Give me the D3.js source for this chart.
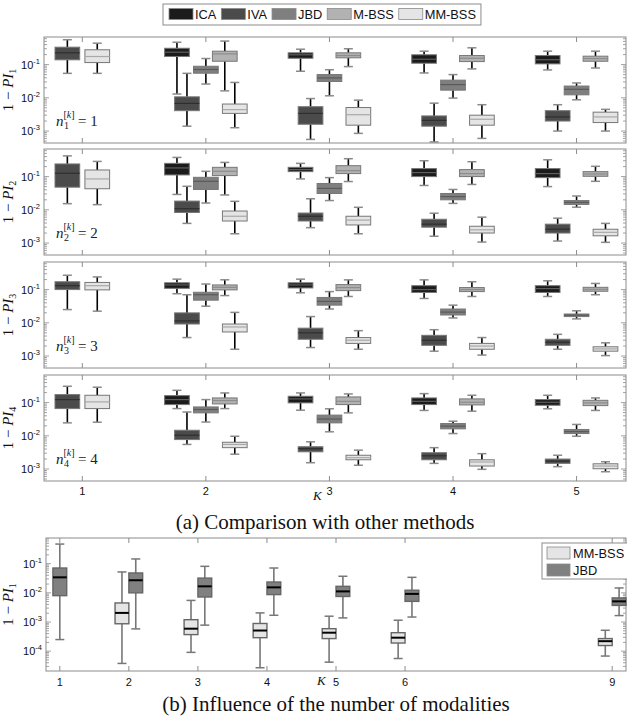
<!DOCTYPE html>
<html>
<head>
<meta charset="utf-8">
<script src="https://cdn.jsdelivr.net/npm/d3@7"></script>
<style>
  body { margin: 0; background: #fff; }
  svg { display: block; }
</style>
</head>
<body>
<div id="chart"></div>
<script>
// ---- data: every box is [lower whisker, q1, median, q3, upper whisker] ----
const METHODS = ['ICA', 'IVA', 'JBD', 'M-BSS', 'MM-BSS'];
const K_TOP = [1, 2, 3, 4, 5];
const K_BOTTOM = [1, 2, 3, 4, 5, 6, 9];

// n^[k] = 1
const PI1 = [
  [null, [0.013, 0.175, 0.236, 0.31, 0.47], [0.063, 0.155, 0.197, 0.226, 0.29], [0.056, 0.11, 0.145, 0.197, 0.253], [0.069, 0.105, 0.14, 0.187, 0.253]],
  [[0.0545, 0.139, 0.226, 0.334, 0.56], [0.0014, 0.0041, 0.0068, 0.0107, 0.0545], [0.00056, 0.0016, 0.0034, 0.0054, 0.0095], [0.00047, 0.0014, 0.0021, 0.00285, 0.0069], [0.001, 0.002, 0.00266, 0.0041, 0.0062]],
  [null, [0.026, 0.055, 0.071, 0.089, 0.152], [0.0115, 0.031, 0.0396, 0.05, 0.07], [0.0098, 0.017, 0.025, 0.034, 0.05], [0.0087, 0.0123, 0.018, 0.0226, 0.028]],
  [null, [0.0162, 0.126, 0.21, 0.253, 0.51], [0.087, 0.16, 0.187, 0.226, 0.3], [0.074, 0.123, 0.155, 0.187, 0.32], [0.079, 0.126, 0.152, 0.179, 0.253]],
  [[0.0545, 0.115, 0.175, 0.279, 0.44], [0.00126, 0.0034, 0.0044, 0.0065, 0.029], [0.00085, 0.0015, 0.0031, 0.0051, 0.0085], [0.0006, 0.0015, 0.00226, 0.003, 0.0062], [0.001, 0.0018, 0.00266, 0.0037, 0.0045]],
];
// n^[k] = 2
const PI2 = [
  [null, [0.029, 0.112, 0.182, 0.25, 0.377], [0.085, 0.141, 0.162, 0.19, 0.25], [0.054, 0.1, 0.132, 0.174, 0.3], [0.05, 0.093, 0.123, 0.174, 0.32]],
  [[0.0153, 0.048, 0.126, 0.24, 0.42], [0.0039, 0.0083, 0.0108, 0.0183, 0.051], [0.0029, 0.0046, 0.0064, 0.008, 0.0215], [0.0016, 0.003, 0.0037, 0.0052, 0.0079], [0.00115, 0.002, 0.0026, 0.0037, 0.0056]],
  [null, [0.016, 0.041, 0.072, 0.095, 0.144], [0.019, 0.031, 0.044, 0.062, 0.093], [0.0156, 0.02, 0.025, 0.031, 0.041], [0.012, 0.0145, 0.0167, 0.019, 0.026]],
  [null, [0.028, 0.107, 0.144, 0.19, 0.267], [0.071, 0.123, 0.151, 0.213, 0.345], [0.058, 0.1, 0.123, 0.162, 0.28], [0.072, 0.102, 0.12, 0.141, 0.204]],
  [[0.0143, 0.043, 0.085, 0.158, 0.286], [0.0019, 0.0046, 0.0064, 0.0092, 0.018], [0.0019, 0.0035, 0.0049, 0.0064, 0.0119], [0.00107, 0.002, 0.0025, 0.0032, 0.006], [0.00105, 0.00165, 0.0021, 0.0026, 0.0039]],
];
// n^[k] = 3
const PI3 = [
  [null, [0.075, 0.109, 0.138, 0.16, 0.206], [0.08, 0.112, 0.138, 0.16, 0.206], [0.054, 0.082, 0.1, 0.131, 0.196], [0.062, 0.082, 0.107, 0.131, 0.184]],
  [[0.025, 0.1, 0.131, 0.172, 0.27], [0.0036, 0.0092, 0.0114, 0.0199, 0.07], [0.0018, 0.0032, 0.005, 0.0069, 0.0154], [0.0014, 0.0021, 0.003, 0.0042, 0.0062], [0.0016, 0.0021, 0.0026, 0.0032, 0.0045]],
  [null, [0.0316, 0.048, 0.07, 0.083, 0.147], [0.026, 0.034, 0.044, 0.058, 0.087], [0.014, 0.0172, 0.021, 0.026, 0.034], [0.0131, 0.0154, 0.0169, 0.0184, 0.023]],
  [null, [0.066, 0.098, 0.117, 0.138, 0.197], [0.062, 0.093, 0.115, 0.141, 0.196], [0.062, 0.087, 0.1, 0.115, 0.172], [0.07, 0.089, 0.102, 0.117, 0.153]],
  [[0.0224, 0.098, 0.131, 0.164, 0.24], [0.0016, 0.0053, 0.0075, 0.0092, 0.0206], [0.0016, 0.0024, 0.003, 0.0036, 0.0058], [0.00107, 0.0016, 0.002, 0.0024, 0.0036], [0.00103, 0.0014, 0.00164, 0.0019, 0.0025]],
];
// n^[k] = 4
const PI4 = [
  [null, [0.066, 0.087, 0.123, 0.162, 0.234], [0.059, 0.098, 0.129, 0.155, 0.195], [0.058, 0.087, 0.109, 0.138, 0.186], [0.065, 0.083, 0.102, 0.123, 0.166]],
  [[0.0245, 0.066, 0.123, 0.174, 0.31], [0.0055, 0.0077, 0.0104, 0.0147, 0.052], [0.00155, 0.0033, 0.0041, 0.0047, 0.0066], [0.00148, 0.0019, 0.0025, 0.0031, 0.0044], [0.00118, 0.00148, 0.00173, 0.002, 0.0026]],
  [null, [0.026, 0.049, 0.062, 0.074, 0.123], [0.0132, 0.0245, 0.032, 0.042, 0.065], [0.0117, 0.0162, 0.0195, 0.0234, 0.0275], [0.0097, 0.0117, 0.0134, 0.0155, 0.022]],
  [null, [0.066, 0.091, 0.115, 0.138, 0.195], [0.049, 0.087, 0.109, 0.148, 0.182], [0.055, 0.085, 0.102, 0.129, 0.166], [0.058, 0.081, 0.098, 0.117, 0.138]],
  [[0.0257, 0.066, 0.105, 0.166, 0.29], [0.0028, 0.0044, 0.0055, 0.0064, 0.0097], [0.0013, 0.0019, 0.0022, 0.0026, 0.0037], [0.00098, 0.00123, 0.00163, 0.0019, 0.0029], [0.00083, 0.00102, 0.00123, 0.00144, 0.00166]],
];

// (b) number of modalities, PI_1
const B_MMBSS = [null, [0.000038, 0.00087, 0.00205, 0.0045, 0.052], [0.000091, 0.00037, 0.00059, 0.0012, 0.0055], [0.000027, 0.00029, 0.00051, 0.00089, 0.00205], [0.000042, 0.00027, 0.00043, 0.00059, 0.00158], [0.000056, 0.00019, 0.00029, 0.00043, 0.00115], [0.000068, 0.000156, 0.00022, 0.00027, 0.00052]];
const B_JBD = [[0.00025, 0.008, 0.034, 0.071, 0.47], [0.00058, 0.01, 0.027, 0.048, 0.145], [0.00078, 0.0072, 0.0167, 0.032, 0.081], [0.0017, 0.0087, 0.0154, 0.0235, 0.071], [0.00138, 0.0075, 0.0112, 0.0167, 0.037], [0.00148, 0.0051, 0.0092, 0.0123, 0.034], [0.00166, 0.0037, 0.0051, 0.0067, 0.0147]];

const Y_TICKS_TOP = [1e-3, 1e-2, 1e-1];
const Y_TICKS_BOTTOM = [1e-4, 1e-3, 1e-2, 1e-1];

// ---- styling ----
const FILLS = ['#1b1b1b', '#4b4b4b', '#7f7f7f', '#b2b2b2', '#e5e5e5'];
const MEDIANS = ['#5e5e5e', '#2f2f2f', '#5a5a5a', '#8c8c8c', '#a9a9a9'];
const AXIS = '#8c8c8c';
const SANS = 'Liberation Sans, Arial, sans-serif';
const SERIF = 'Liberation Serif, Times New Roman, serif';

const W = 627, H = 722;
const svg = d3.select('#chart').append('svg').attr('width', W).attr('height', H);

const left = 44, right = 626;

// top-panel placement of the five methods around each K
const OFFSETS = [-0.234, -0.153, 0, 0.153, 0.234];
const OFFSETS_K1 = { 1: -0.121, 4: 0.121 };
const BOX_W = 0.2;

function drawFrame(g, x, y, xTicks, yTicks) {
  const [x0, x1] = x.range();
  const [y0, y1] = y.range(); // y0 bottom, y1 top
  // x ticks, top and bottom, pointing inward
  xTicks.forEach(k => {
    g.append('line').attr('x1', x(k)).attr('x2', x(k)).attr('y1', y0).attr('y2', y0 - 5).attr('stroke', AXIS);
    g.append('line').attr('x1', x(k)).attr('x2', x(k)).attr('y1', y1).attr('y2', y1 + 5).attr('stroke', AXIS);
  });
  // log ticks on both sides
  const [lo, hi] = y.domain();
  for (let e = Math.floor(Math.log10(lo)); e <= Math.ceil(Math.log10(hi)); e++) {
    for (let m = 1; m <= 9; m++) {
      const v = m * Math.pow(10, e);
      if (v < lo || v > hi) continue;
      const len = m === 1 ? 5 : 3;
      const yy = y(v);
      g.append('line').attr('x1', x0).attr('x2', x0 + len).attr('y1', yy).attr('y2', yy).attr('stroke', AXIS).attr('stroke-width', 0.8);
      g.append('line').attr('x1', x1).attr('x2', x1 - len).attr('y1', yy).attr('y2', yy).attr('stroke', AXIS).attr('stroke-width', 0.8);
    }
  }
  g.append('rect')
    .attr('x', x0).attr('y', y1).attr('width', x1 - x0).attr('height', y0 - y1)
    .attr('fill', 'none').attr('stroke', AXIS).attr('stroke-width', 1);

  // y tick labels 10^e
  yTicks.forEach(v => {
    const t = g.append('text').attr('x', x0 - 4).attr('y', y(v) + 4)
      .attr('text-anchor', 'end').attr('font-family', SANS).attr('font-size', 11).attr('fill', '#111');
    t.append('tspan').text('10');
    t.append('tspan').attr('dy', -5).attr('font-size', 7.5).text('-' + Math.abs(Math.round(Math.log10(v))));
  });
}

function drawBox(g, cx, hw, s, y, st) {
  const [lo, q1, med, q3, hi] = s;
  const cap = 4.5;
  g.append('line').attr('x1', cx).attr('x2', cx).attr('y1', y(hi)).attr('y2', y(q3)).attr('stroke', st.whisker).attr('stroke-width', 1.6);
  g.append('line').attr('x1', cx).attr('x2', cx).attr('y1', y(q1)).attr('y2', y(lo)).attr('stroke', st.whisker).attr('stroke-width', 1.6);
  [hi, lo].forEach(v => {
    g.append('line').attr('x1', cx - cap).attr('x2', cx + cap).attr('y1', y(v)).attr('y2', y(v)).attr('stroke', st.cap).attr('stroke-width', 1.5);
  });
  g.append('rect').attr('x', cx - hw).attr('y', y(q3)).attr('width', 2 * hw).attr('height', y(q1) - y(q3))
    .attr('fill', st.fill).attr('stroke', st.stroke).attr('stroke-width', st.strokeW);
  g.append('line').attr('x1', cx - hw).attr('x2', cx + hw).attr('y1', y(med)).attr('y2', y(med))
    .attr('stroke', st.median).attr('stroke-width', st.medianW);
}

function yLabel(g, cx, cy, sub) {
  const t = g.append('text').attr('transform', `translate(${cx},${cy}) rotate(-90)`)
    .attr('text-anchor', 'middle').attr('font-family', SERIF).attr('font-size', 15).attr('fill', '#111');
  t.append('tspan').text('1 \u2212 ');
  t.append('tspan').attr('font-style', 'italic').text('PI');
  t.append('tspan').attr('dy', 3).attr('font-size', 10).text(sub);
}

// ---- legend (a) ----
const legA = svg.append('g');
const legRect = legA.append('rect').attr('x', 163).attr('y', 4).attr('height', 21).attr('fill', '#fff').attr('stroke', AXIS);
let lx = 169;
METHODS.forEach((m, i) => {
  legA.append('rect').attr('x', lx).attr('y', 8.5).attr('width', 24).attr('height', 11)
    .attr('fill', FILLS[i]).attr('stroke', '#8a8a8a').attr('stroke-width', 0.8);
  const t = legA.append('text').attr('x', lx + 26).attr('y', 18.5).attr('font-family', SANS).attr('font-size', 12.8).attr('fill', '#111').text(m);
  lx += 26 + t.node().getComputedTextLength() + 5;
});
legRect.attr('width', lx - 163);

// ---- panels (a) ----
const xTop = d3.scaleLinear().domain([0.69, 5.4]).range([left, right]);
const PANEL_TOPS = [37, 149, 262, 375];
const PANEL_H = 106;
[PI1, PI2, PI3, PI4].forEach((data, p) => {
  const top = PANEL_TOPS[p], bot = top + PANEL_H;
  const y = d3.scaleLog().domain([Math.pow(10, -3.36), Math.pow(10, -0.17)]).range([bot, top]);
  const g = svg.append('g');
  drawFrame(g, xTop, y, K_TOP, Y_TICKS_TOP);
  const hw = (xTop(BOX_W) - xTop(0)) / 2;
  data.forEach((series, mi) => {
    series.forEach((s, ki) => {
      if (!s) return;
      const k = K_TOP[ki];
      const off = k === 1 ? OFFSETS_K1[mi] : OFFSETS[mi];
      drawBox(g, xTop(k + off), hw, s, y, {
        fill: FILLS[mi], stroke: '#777', strokeW: 1, median: MEDIANS[mi], medianW: 1.2,
        whisker: '#000', cap: '#8a8a8a'
      });
    });
  });
  yLabel(g, 13, (top + bot) / 2, String(p + 1));
  // n_p^[k] = p annotation
  const base = bot - 17;
  const n = g.append('text').attr('font-family', SERIF).attr('fill', '#222');
  n.append('tspan').attr('x', 56).attr('y', base).attr('font-size', 15).attr('font-style', 'italic').text('n');
  n.append('tspan').attr('x', 64).attr('y', base + 3).attr('font-size', 10).text(String(p + 1));
  const sup = n.append('tspan').attr('x', 63.5).attr('y', base - 8).attr('font-size', 10);
  sup.append('tspan').text('[');
  sup.append('tspan').attr('font-style', 'italic').text('k');
  sup.append('tspan').text(']');
  n.append('tspan').attr('x', 78).attr('y', base).attr('font-size', 15).text('= ' + (p + 1));
});

// x labels (a)
const botA = PANEL_TOPS[3] + PANEL_H;
K_TOP.forEach(k => {
  svg.append('text').attr('x', xTop(k)).attr('y', botA + 14).attr('text-anchor', 'middle')
    .attr('font-family', SANS).attr('font-size', 11).attr('fill', '#111').text(k);
});
svg.append('text').attr('x', 313).attr('y', botA + 19).attr('font-family', SERIF).attr('font-style', 'italic')
  .attr('font-size', 13).attr('fill', '#111').text('K');
svg.append('text').attr('x', 325).attr('y', 529).attr('text-anchor', 'middle').attr('font-family', SERIF)
  .attr('font-size', 21).attr('fill', '#111').text('(a) Comparison with other methods');

// ---- panel (b) ----
const xB = d3.scaleLinear().domain([0.8, 9.2]).range([46, right]);
const topB = 538, botB = 671;
const yB = d3.scaleLog().domain([Math.pow(10, -4.68), Math.pow(10, -0.12)]).range([botB, topB]);
const gB = svg.append('g');
drawFrame(gB, xB, yB, K_BOTTOM, Y_TICKS_BOTTOM);
const hwB = (xB(BOX_W) - xB(0)) / 2;
const B_SERIES = [B_MMBSS, B_JBD];
const B_FILLS = ['#e5e5e5', '#808080'];
B_SERIES.forEach((series, si) => {
  series.forEach((s, ki) => {
    if (!s) return;
    const k = K_BOTTOM[ki];
    const off = k === 1 ? 0 : (si === 0 ? -0.1 : 0.1);
    drawBox(gB, xB(k + off), hwB, s, yB, {
      fill: B_FILLS[si], stroke: '#666', strokeW: 1.4, median: '#000', medianW: 2,
      whisker: '#777', cap: '#777'
    });
  });
});
yLabel(gB, 13, (topB + botB) / 2, '1');
K_BOTTOM.forEach(k => {
  gB.append('text').attr('x', xB(k)).attr('y', botB + 15).attr('text-anchor', 'middle')
    .attr('font-family', SANS).attr('font-size', 11).attr('fill', '#111').text(k);
});
gB.append('text').attr('x', 317).attr('y', botB + 14).attr('font-family', SERIF).attr('font-style', 'italic')
  .attr('font-size', 13).attr('fill', '#111').text('K');

// legend (b)
const legB = svg.append('g');
legB.append('rect').attr('x', 542).attr('y', 543).attr('width', 90).attr('height', 36).attr('fill', '#fff').attr('stroke', AXIS);
['MM-BSS', 'JBD'].forEach((m, i) => {
  legB.append('rect').attr('x', 547).attr('y', 547 + i * 17).attr('width', 23).attr('height', 12)
    .attr('fill', B_FILLS[i]).attr('stroke', '#8a8a8a').attr('stroke-width', 0.8);
  legB.append('text').attr('x', 573).attr('y', 557.5 + i * 17).attr('font-family', SANS).attr('font-size', 12.8)
    .attr('fill', '#111').text(m);
});

svg.append('text').attr('x', 336).attr('y', 711).attr('text-anchor', 'middle').attr('font-family', SERIF)
  .attr('font-size', 21).attr('fill', '#111').text('(b) Influence of the number of modalities');
</script>
</body>
</html>
